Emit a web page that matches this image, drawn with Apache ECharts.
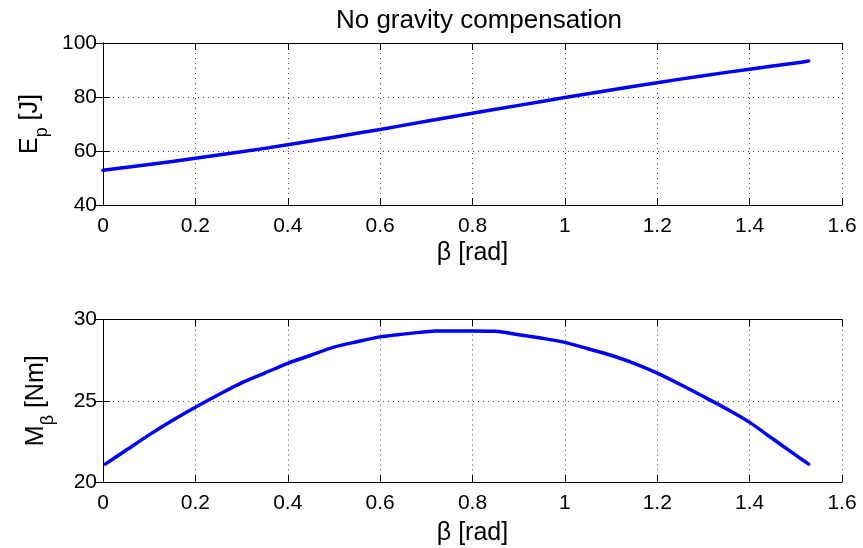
<!DOCTYPE html>
<html>
<head>
<meta charset="utf-8">
<script src="https://cdn.jsdelivr.net/npm/echarts@6/dist/echarts.min.js"></script>
<style>
html,body{margin:0;padding:0;background:#fff;}
#chart{width:863px;height:548px;}
</style>
</head>
<body>
<div id="chart"></div>
<script>
// ---- data ----
var titleText = 'No gravity compensation';
var xTicks = [0, 0.2, 0.4, 0.6, 0.8, 1, 1.2, 1.4, 1.6];
var betaTop = [0, 0.1, 0.2, 0.3, 0.4, 0.5, 0.6, 0.7, 0.8, 0.9, 1.0, 1.1, 1.2, 1.3, 1.4, 1.5, 1.528];
var epValues = [52.9, 55.0, 57.3, 59.7, 62.3, 65.1, 68.0, 71.0, 74.0, 76.9, 79.8, 82.6, 85.3, 87.9, 90.3, 92.6, 93.3];
var betaBottom = [0.005, 0.05, 0.1, 0.15, 0.2, 0.25, 0.3, 0.35, 0.4, 0.45, 0.5, 0.55, 0.6, 0.65, 0.7, 0.72, 0.8, 0.85, 0.9, 0.95, 1.0, 1.05, 1.1, 1.15, 1.2, 1.25, 1.3, 1.35, 1.4, 1.45, 1.5, 1.528];
var mValues = [21.1, 21.95, 22.9, 23.78, 24.6, 25.37, 26.1, 26.7, 27.3, 27.8, 28.3, 28.63, 28.93, 29.1, 29.25, 29.3, 29.3, 29.28, 29.06, 28.85, 28.59, 28.2, 27.8, 27.3, 26.7, 26.0, 25.26, 24.5, 23.67, 22.66, 21.65, 21.1];
var topYTicks = [40, 60, 80, 100];
var bottomYTicks = [20, 25, 30];

function pairs(xs, ys) { return xs.map(function (x, i) { return [x, ys[i]]; }); }

var FONT = 'Liberation Sans, Arial, Helvetica, sans-serif';
var gridLine = { show: true, lineStyle: { color: '#444', type: [1, 4], width: 1 } };
var axLine = { show: true, lineStyle: { color: '#000', width: 1 } };
var tick = { show: true, inside: true, length: 7, lineStyle: { color: '#000' } };
var tickLabel = { fontSize: 21, color: '#000', fontFamily: FONT };

function xAx(gridIndex, primary, gap) {
  return {
    type: 'value', gridIndex: gridIndex, min: xTicks[0], max: xTicks[xTicks.length - 1], interval: 0.2,
    position: primary ? 'bottom' : 'top',
    axisLine: axLine, axisTick: tick,
    axisLabel: primary ? Object.assign({ margin: 11 }, tickLabel) : { show: false },
    splitLine: primary ? gridLine : { show: false },
    name: primary ? 'β [rad]' : '', nameLocation: 'middle', nameGap: gap,
    nameTextStyle: { fontSize: 25, color: '#000', fontFamily: FONT }
  };
}
function yAx(gridIndex, primary, ticks, name) {
  return {
    type: 'value', gridIndex: gridIndex, min: ticks[0], max: ticks[ticks.length - 1], interval: ticks[1] - ticks[0],
    position: primary ? 'left' : 'right',
    axisLine: axLine, axisTick: tick,
    axisLabel: primary ? Object.assign({ margin: 6 }, tickLabel) : { show: false },
    splitLine: primary ? gridLine : { show: false },
    name: primary ? name : '', nameLocation: 'middle', nameRotate: 90, nameGap: 54,
    nameTextStyle: {
      fontSize: 25, color: '#000', fontFamily: FONT,
      rich: {
        m: { fontSize: 25, fontFamily: FONT, color: '#000', lineHeight: 30, verticalAlign: 'bottom' },
        s: { fontSize: 18, fontFamily: FONT, color: '#000', lineHeight: 30, verticalAlign: 'bottom', padding: [0, 0, -8, 0] }
      }
    }
  };
}

var chart = echarts.init(document.getElementById('chart'), null, { renderer: 'canvas' });
chart.setOption({
  animation: false,
  backgroundColor: '#fff',
  textStyle: { fontFamily: FONT },
  title: {
    text: titleText, left: 474, top: 3, textAlign: 'center',
    textStyle: { fontSize: 26, fontWeight: 'normal', color: '#000', fontFamily: FONT }
  },
  grid: [
    { left: 103, right: 21, top: 43, height: 162 },
    { left: 103, right: 21, top: 319.5, height: 162.5 }
  ],
  xAxis: [xAx(0, true, 36), xAx(0, false, 0), xAx(1, true, 39), xAx(1, false, 0)],
  yAxis: [
    yAx(0, true, topYTicks, '{m|E}{s|p}{m| [J]}'),
    yAx(0, false, topYTicks, ''),
    yAx(1, true, bottomYTicks, '{m|M}{s|β}{m| [Nm]}'),
    yAx(1, false, bottomYTicks, '')
  ],
  series: [
    {
      type: 'line', xAxisIndex: 0, yAxisIndex: 0, data: pairs(betaTop, epValues),
      showSymbol: false, smooth: 0.3, lineStyle: { color: '#0000ff', width: 3.5, cap: 'round', join: 'round' }
    },
    {
      type: 'line', xAxisIndex: 2, yAxisIndex: 2, data: pairs(betaBottom, mValues),
      showSymbol: false, smooth: 0.3, lineStyle: { color: '#0000ff', width: 3.5, cap: 'round', join: 'round' }
    }
  ]
});
</script>
</body>
</html>
